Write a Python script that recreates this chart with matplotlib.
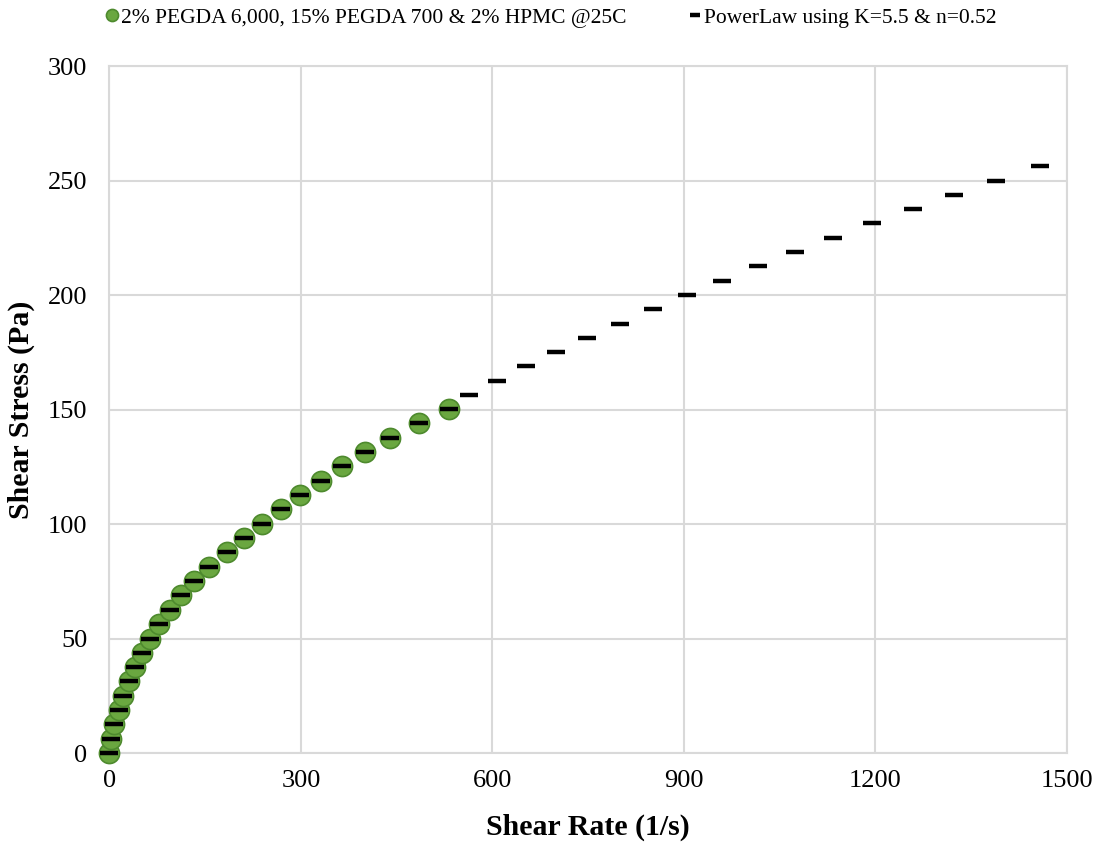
import numpy as np
from matplotlib import pyplot as plt

# Shear rate (1/s)
shear_rate = [0, 2.3, 7, 14.4, 20.6, 30, 39.4, 50.9, 63.4, 77.5, 94.2, 111.9, 132.7, 156, 184.4,
              211, 239.2, 268.4, 298.6, 331, 364.3, 400.3, 440, 484.3, 531.8, 562.7, 606.8, 652.3,
              699.8, 748.6, 799.5, 851.1, 904.7, 959.7, 1016.7, 1074.4, 1134.1, 1195.2, 1259,
              1322.8, 1389.3, 1457.2]

# Measured shear stress (Pa), first 25 rates
measured_stress = [0, 6.2, 12.5, 18.8, 25, 31.3, 37.6, 43.8, 49.9, 56.3, 62.6, 68.9, 75.1, 81.4,
                   87.6, 93.9, 100.1, 106.4, 112.7, 118.9, 125.2, 131.4, 137.7, 144, 150.1]

# Power law fit shear stress (Pa)
powerlaw_stress = [0, 6.2, 12.5, 18.8, 25, 31.3, 37.6, 43.8, 49.9, 56.3, 62.6, 68.9, 75.1, 81.4,
                   87.6, 93.9, 100.1, 106.4, 112.7, 118.9, 125.2, 131.4, 137.7, 144, 150.1,
                   156.2, 162.4, 168.9, 175.0, 181.2, 187.5, 193.7, 200, 206.3, 212.5, 218.8,
                   225, 231.3, 237.6, 243.8, 249.9, 256.3]

x_ticks = [0, 300, 600, 900, 1200, 1500]
y_ticks = [0, 50, 100, 150, 200, 250, 300]

plt.rcParams['font.family'] = ['Liberation Serif', 'DejaVu Serif']

fig = plt.figure(figsize=(11, 8.42), dpi=100)
ax = fig.add_axes([0.0995, 0.1057, 0.8705, 0.8159])

grid_col = '#d9d9d9'
ax.plot(shear_rate[:len(measured_stress)], measured_stress, linestyle='none', marker='o',
        markersize=14.5, markerfacecolor='#6aa740', markeredgecolor='#4e8a2e', markeredgewidth=1.2,
        label='2% PEGDA 6,000, 15% PEGDA 700 & 2% HPMC @25C', clip_on=False, zorder=3)
ax.plot(shear_rate, powerlaw_stress, linestyle='none', marker='_', markersize=13,
        markeredgewidth=3.2, color='black', label='PowerLaw using K=5.5 & n=0.52',
        clip_on=False, zorder=4)

ax.set_xlim(0, 1500)
ax.set_ylim(0, 300)
ax.set_xticks(x_ticks)
ax.set_yticks(y_ticks)
ax.grid(True, color=grid_col, linewidth=1.5)
ax.set_axisbelow(True)
for s in ax.spines.values():
    s.set_color(grid_col)
    s.set_linewidth(1.5)
ax.tick_params(length=0, labelsize=19, colors='black')
ax.tick_params(axis='x', pad=12)
ax.tick_params(axis='y', pad=16)

ax.set_xlabel('Shear Rate (1/s)', fontsize=21.5, fontweight='bold')
ax.set_ylabel('Shear Stress (Pa)', fontsize=21.5, fontweight='bold')
ax.xaxis.set_label_coords(0.5, -0.089)
ax.yaxis.set_label_coords(-0.078, 0.5)

fig.legend(loc='upper center', bbox_to_anchor=(0.5014, 1.014), ncol=2, frameon=False,
           fontsize=15.5, markerscale=0.6, handlelength=0.5, handletextpad=0.2,
           columnspacing=2.9)

fig.savefig('out.png', dpi=100)
